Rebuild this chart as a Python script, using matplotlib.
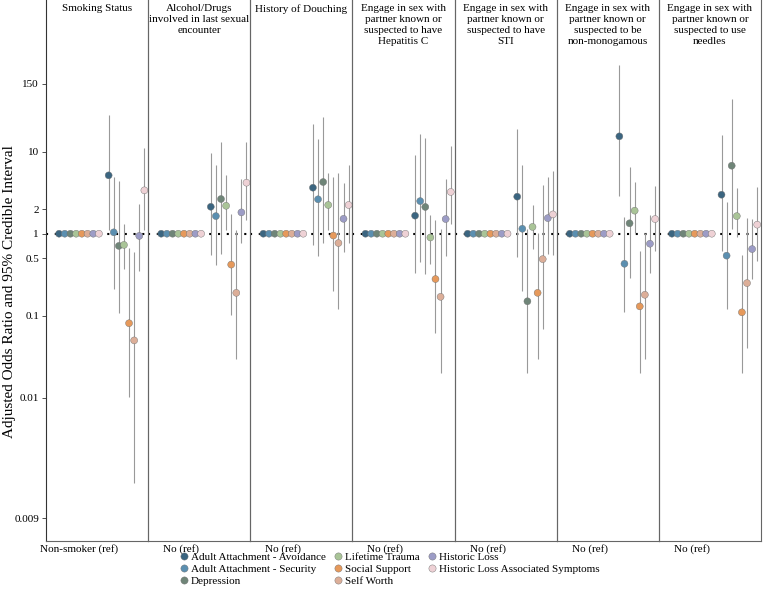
import numpy as np
import matplotlib

matplotlib.use("Agg")
import matplotlib.pyplot as plt
from matplotlib.lines import Line2D

plt.rcParams["font.family"] = ["Liberation Serif", "DejaVu Serif"]

# facet titles and the reference level shown under each panel
FACETS = [
    "Smoking Status",
    "Alcohol/Drugs\ninvolved in last sexual\nencounter",
    "History of Douching",
    "Engage in sex with\npartner known or\nsuspected to have\nHepatitis C",
    "Engage in sex with\npartner known or\nsuspected to have\nSTI",
    "Engage in sex with\npartner known or\nsuspected to be\nnon-monogamous",
    "Engage in sex with\npartner known or\nsuspected to use\nneedles",
]
REF_LABELS = ["Non-smoker (ref)"] + ["No (ref)"] * 6

VARIABLES = [
    "Adult Attachment - Avoidance",
    "Adult Attachment - Security",
    "Depression",
    "Lifetime Trauma",
    "Social Support",
    "Self Worth",
    "Historic Loss",
    "Historic Loss Associated Symptoms",
]
COLORS = ["#3b6580", "#5b8fb0", "#6f8578", "#a9c497", "#e6995b",
          "#dcae98", "#9c9cc6", "#eed1d5"]

# rows = facets, columns = variables (same order as VARIABLES)
odds_ratio = np.array([
    [5.15, 1.04, 0.71, 0.73, 0.081, 0.050, 0.94, 3.38],
    [2.13, 1.64, 2.65, 2.19, 0.42, 0.19, 1.82, 4.19],
    [3.64, 2.63, 4.27, 2.24, 0.95, 0.77, 1.52, 2.24],
    [1.66, 2.50, 2.12, 0.90, 0.28, 0.17, 1.51, 3.23],
    [2.83, 1.15, 0.15, 1.21, 0.19, 0.49, 1.55, 1.72],
    [15.4, 0.43, 1.34, 1.91, 0.13, 0.18, 0.755, 1.51],
    [2.99, 0.54, 6.75, 1.64, 0.11, 0.25, 0.65, 1.29],
])
ci_lower = np.array([
    [1.11, 0.21, 0.109, 0.37, 0.0101, 0.00091, 0.35, 1.11],
    [0.545, 0.42, 0.565, 1.11, 0.101, 0.030, 0.78, 1.46],
    [0.73, 0.535, 0.76, 1.11, 0.20, 0.12, 0.60, 0.78],
    [0.33, 0.45, 0.32, 0.43, 0.061, 0.020, 0.54, 1.31],
    [0.52, 0.20, 0.020, 0.66, 0.030, 0.069, 0.56, 0.545],
    [2.88, 0.11, 0.29, 1.03, 0.020, 0.030, 0.33, 0.61],
    [0.61, 0.12, 1.14, 0.90, 0.020, 0.040, 0.28, 0.47],
])
ci_upper = np.array([
    [28.0, 4.87, 4.43, 1.31, 0.675, 0.593, 2.3, 11.2],
    [9.56, 6.8, 13.0, 5.2, 1.74, 1.11, 4.6, 13.2],
    [22.0, 14.2, 26.3, 5.5, 4.9, 5.5, 4.1, 6.8],
    [9.1, 16.4, 14.7, 1.68, 1.47, 1.13, 4.7, 11.6],
    [18.8, 6.8, 1.14, 2.22, 1.01, 3.9, 4.9, 5.8],
    [114.0, 1.61, 6.45, 4.27, 0.61, 1.03, 1.7, 3.8],
    [15.9, 2.41, 44.0, 3.58, 0.545, 1.54, 1.52, 3.7],
])
REF_VALUE = 1.0

# axis breaks as printed on the original (labels do not follow the log spacing)
YTICKS = [0.00034, 0.01, 0.1, 0.5, 1, 2, 10, 67]
YTICK_LABELS = ["0.009", "0.01", "0.1", "0.5", "1", "2", "10", "150"]

W, H = 763, 593
fig = plt.figure(figsize=(W / 100, H / 100), dpi=100)

left_px, right_px, top_px, bot_px = 46, 761, 0, 541
panel_w = (right_px - left_px) / len(FACETS)
spine_c = "#666666"

for k, title in enumerate(FACETS):
    ax = fig.add_axes([(left_px + k * panel_w) / W, 1 - bot_px / H,
                       panel_w / W, (bot_px - top_px) / H])
    ax.patch.set_visible(False)
    ax.set_yscale("log")
    ax.set_ylim(0.000179, 708)
    ax.set_xlim(0, 102.14)

    ax.axhline(REF_VALUE, color="black", lw=1.5, ls=(0, (1, 3.2)), zorder=1)

    n = len(VARIABLES)
    off = np.arange(n) - (n - 1) / 2
    x_ref = 33 + off * 5.7
    x_est = 80.5 + off * 5.1

    ax.vlines(x_est, ci_lower[k], ci_upper[k], color="#999999", lw=0.8, zorder=2)
    ax.scatter(x_ref, np.full(n, REF_VALUE), s=25, c=COLORS,
               edgecolors="#707070", linewidths=0.3, zorder=3)
    ax.scatter(x_est, odds_ratio[k], s=25, c=COLORS,
               edgecolors="#707070", linewidths=0.3, zorder=3)

    ax.text(0.5, 1 - 4 / (bot_px - top_px), title, transform=ax.transAxes,
            ha="center", va="top", fontsize=8, linespacing=1.3)

    ax.set_xticks([33])
    ax.set_xticklabels([REF_LABELS[k]], fontsize=8)
    ax.tick_params(axis="x", length=0, pad=2)

    ax.spines["top"].set_visible(False)
    for s in ("left", "right", "bottom"):
        ax.spines[s].set_color(spine_c)
        ax.spines[s].set_linewidth(0.8)

    ax.minorticks_off()
    if k == 0:
        ax.set_yticks(YTICKS)
        ax.set_yticklabels(YTICK_LABELS, fontsize=8)
        ax.tick_params(axis="y", length=3, width=0.6, color="#333333", pad=2)
        ax.spines["left"].set_color("#333333")
    else:
        ax.set_yticks([])

fig.text(10 / W, 1 - 292 / H, "Adjusted Odds Ratio and 95% Credible Interval",
         rotation=90, ha="center", va="center", fontsize=11)

handles = [Line2D([], [], ls="", marker="o", ms=5.2, mfc=c, mec="#707070",
                  mew=0.3) for c in COLORS]
fig.legend(handles, VARIABLES, ncol=3, loc="upper left",
           bbox_to_anchor=(180 / W, 1 - 552 / H), frameon=False, fontsize=8,
           handlelength=0.7, handletextpad=0.25, columnspacing=0.8,
           labelspacing=0.22, borderaxespad=0, borderpad=0)

fig.savefig("out.png", dpi=100)
